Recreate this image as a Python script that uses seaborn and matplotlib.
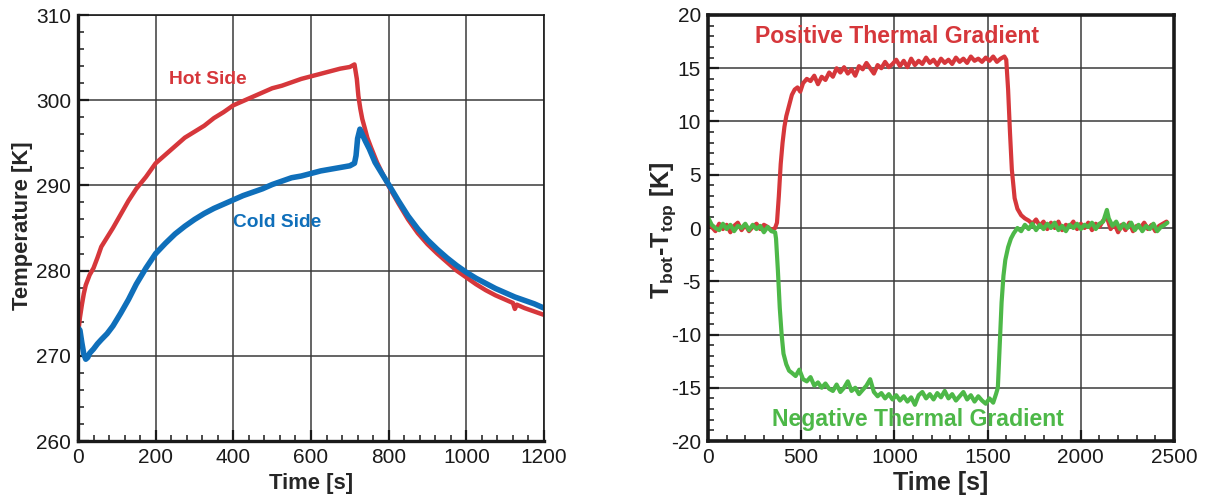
import matplotlib
matplotlib.use("Agg")
import matplotlib.pyplot as plt
import seaborn as sns
import pandas as pd
from matplotlib.ticker import MultipleLocator

# ---------------- data: left panel ----------------
hot_t = [0, 5, 10, 15, 20, 30, 40, 50, 60, 75, 90, 110, 130, 150, 175, 200, 225, 250,
         275, 300, 325, 350, 375, 400, 425, 450, 475, 500, 525, 550, 575, 600, 625, 650,
         675, 700, 712, 718, 722, 727, 732, 738, 745, 755, 770, 785, 800, 825, 850, 875,
         900, 925, 950, 975, 1000, 1025, 1050, 1075, 1100, 1120, 1125, 1130, 1150, 1175, 1200]
hot_T = [272.5, 274.5, 276.0, 277.3, 278.3, 279.5, 280.3, 281.5, 282.8, 283.9, 285.0, 286.6,
         288.2, 289.6, 291.0, 292.6, 293.6, 294.6, 295.6, 296.3, 297.0, 297.9, 298.6, 299.4,
         299.9, 300.4, 300.9, 301.4, 301.7, 302.1, 302.5, 302.8, 303.1, 303.4, 303.7, 303.9,
         304.2, 302.5, 300.5, 299.0, 297.8, 296.8, 295.6, 294.4, 292.7, 291.3, 289.9, 287.9,
         286.0, 284.4, 283.1, 282.0, 281.0, 280.0, 279.2, 278.4, 277.7, 277.1, 276.6, 276.2,
         275.5, 276.0, 275.6, 275.2, 274.8]

cold_t = [0, 5, 10, 15, 20, 25, 30, 40, 50, 60, 75, 90, 110, 130, 150, 175, 200, 225, 250,
          275, 300, 325, 350, 375, 400, 425, 450, 475, 500, 525, 550, 575, 600, 625, 650,
          675, 700, 712, 716, 720, 726, 732, 740, 750, 765, 785, 800, 825, 850, 875, 900,
          925, 950, 975, 1000, 1025, 1050, 1075, 1100, 1125, 1150, 1175, 1200]
cold_T = [273.3, 273.0, 271.5, 270.2, 269.6, 269.8, 270.3, 270.8, 271.4, 271.9, 272.6, 273.5,
          275.0, 276.6, 278.4, 280.3, 282.0, 283.2, 284.3, 285.2, 286.0, 286.7, 287.3, 287.8,
          288.3, 288.8, 289.2, 289.6, 290.1, 290.5, 290.9, 291.1, 291.4, 291.7, 291.9, 292.1,
          292.3, 292.6, 293.5, 295.5, 296.6, 296.0, 295.2, 294.3, 292.7, 291.2, 290.1, 288.2,
          286.4, 284.9, 283.6, 282.5, 281.5, 280.6, 279.8, 279.1, 278.5, 277.9, 277.4, 276.9,
          276.5, 276.1, 275.6]

# ---------------- data: right panel ----------------
pos_t = [0, 20, 40, 60, 80, 100, 120, 140, 160, 180, 200, 220, 240, 260, 280, 300, 320, 340,
         360, 370, 380, 390, 400, 410, 420, 435, 450, 465, 480, 495, 510, 530, 550, 570, 590,
         610, 630, 650, 670, 690, 710, 730, 750, 770, 790, 810, 830, 850, 870, 890, 910, 930,
         950, 970, 990, 1010, 1030, 1050, 1070, 1090, 1110, 1130, 1150, 1170, 1190, 1210,
         1230, 1250, 1270, 1290, 1310, 1330, 1350, 1370, 1390, 1410, 1430, 1450, 1470, 1490,
         1510, 1530, 1550, 1570, 1590, 1600, 1610, 1620, 1630, 1645, 1660, 1680, 1700, 1720,
         1740, 1760, 1780, 1800, 1820, 1840, 1860, 1880, 1900, 1920, 1940, 1960, 1980, 2000,
         2020, 2040, 2060, 2080, 2100, 2120, 2140, 2160, 2180, 2200, 2220, 2240, 2260, 2280,
         2300, 2320, 2340, 2360, 2380, 2400, 2420, 2440, 2460]
pos_v = [0.5, 0.1, -0.3, 0.4, -0.1, 0.3, -0.4, 0.2, 0.5, -0.2, 0.3, -0.3, 0.1, 0.4, -0.1, 0.3,
         0.1, -0.2, 0.0, 0.5, 3.0, 6.0, 8.0, 9.5, 10.5, 11.5, 12.5, 13.0, 13.2, 12.8, 13.6,
         14.0, 13.8, 14.3, 13.5, 14.2, 13.9, 14.6, 14.2, 15.0, 14.6, 15.1, 14.5, 14.9, 14.3,
         15.2, 14.9, 15.5, 15.0, 14.5, 15.3, 15.0, 15.6, 15.1, 15.4, 15.8, 15.2, 15.7, 15.1,
         15.9, 15.3, 15.7, 15.4, 16.0, 15.5, 15.8, 15.3, 15.9, 15.5, 15.8, 15.4, 16.0, 15.6,
         15.9, 15.5, 16.1, 15.7, 15.9, 15.6, 16.0, 15.7, 16.1, 15.6, 15.9, 16.1, 15.8, 13.0,
         9.0, 5.5, 2.8, 1.8, 1.2, 0.9, 0.7, 0.4, 0.8, 0.2, 0.6, -0.1, 0.5, 0.0, 0.6, -0.2, 0.3,
         0.1, 0.6, -0.1, 0.4, 0.0, 0.5, -0.2, 0.4, 0.1, 0.7, 1.0, -0.1, 0.4, -0.4, 0.3, -0.2,
         0.5, -0.3, 0.2, 0.0, 0.5, -0.1, 0.3, -0.3, 0.2, 0.4, 0.6]

neg_t = [0, 20, 40, 60, 80, 100, 120, 140, 160, 180, 200, 220, 240, 260, 280, 300, 320, 340,
         360, 365, 375, 385, 395, 405, 420, 435, 450, 470, 490, 510, 530, 550, 570, 590, 610,
         630, 650, 670, 690, 710, 730, 750, 770, 790, 810, 830, 850, 870, 890, 910, 930, 950,
         970, 990, 1010, 1030, 1050, 1070, 1090, 1110, 1130, 1150, 1170, 1190, 1210, 1230,
         1250, 1270, 1290, 1310, 1330, 1350, 1370, 1390, 1410, 1430, 1450, 1470, 1490, 1510,
         1530, 1545, 1555, 1565, 1575, 1585, 1595, 1610, 1625, 1640, 1660, 1680, 1700, 1720,
         1740, 1760, 1780, 1800, 1820, 1840, 1860, 1880, 1900, 1920, 1940, 1960, 1980, 2000,
         2020, 2040, 2060, 2080, 2100, 2120, 2140, 2150, 2170, 2190, 2210, 2230, 2250, 2270,
         2290, 2310, 2330, 2350, 2370, 2390, 2410, 2430, 2450, 2465]
neg_v = [1.0, 0.3, 0.0, -0.2, 0.4, -0.1, 0.3, -0.3, 0.2, 0.0, 0.4, -0.2, 0.3, -0.1, 0.2, -0.4,
         0.1, -0.3, -0.4, -1.0, -4.0, -7.5, -10.0, -11.8, -12.8, -13.4, -13.6, -13.9, -13.3,
         -14.2, -14.4, -14.0, -14.8, -14.5, -15.0, -14.6, -15.1, -15.3, -14.7, -15.4, -15.0,
         -14.4, -15.3, -15.0, -15.6, -15.2, -14.8, -14.2, -15.4, -15.8, -15.5, -16.0, -15.6,
         -16.1, -15.7, -16.2, -15.8, -16.3, -15.9, -16.6, -15.7, -15.4, -16.0, -15.6, -16.1,
         -15.5, -15.9, -15.3, -16.0, -15.6, -16.2, -15.8, -15.4, -16.1, -15.7, -16.3, -15.8,
         -16.2, -16.5, -16.0, -16.4, -15.6, -15.0, -11.0, -7.0, -4.5, -3.0, -1.8, -1.0, -0.5,
         0.0, -0.3, 0.3, -0.1, 0.4, -0.2, 0.3, -0.1, 0.4, 0.0, 0.5, -0.2, 0.2, -0.3, 0.3, 0.0,
         0.4, -0.1, 0.3, 0.1, 0.5, -0.1, 0.4, 0.6, 1.7, 0.9, 0.2, 0.6, -0.1, 0.4, 0.0, 0.5,
         -0.2, 0.3, -0.3, 0.2, -0.1, 0.4, -0.3, 0.1, 0.3, 0.5]

RED = "#d6373b"
BLUE = "#0f6fba"
GREEN = "#4db848"

sns.set_style("white")
plt.rcParams["font.family"] = ["Liberation Sans", "DejaVu Sans"]
plt.rcParams["axes.unicode_minus"] = False
plt.rcParams["mathtext.fontset"] = "custom"
plt.rcParams["mathtext.rm"] = "Liberation Sans"
plt.rcParams["mathtext.bf"] = "Liberation Sans:bold"

fig = plt.figure(figsize=(12.06, 4.98), dpi=100)
axL = fig.add_axes([78 / 1206, 1 - 441 / 498, 466 / 1206, 426 / 498])
axR = fig.add_axes([708 / 1206, 1 - 441 / 498, 466 / 1206, 426 / 498])

df_hot = pd.DataFrame({"t": hot_t, "T": hot_T})
df_cold = pd.DataFrame({"t": cold_t, "T": cold_T})
sns.lineplot(data=df_hot, x="t", y="T", ax=axL, color=RED, lw=3.2, estimator=None, sort=False)
sns.lineplot(data=df_cold, x="t", y="T", ax=axL, color=BLUE, lw=4.0, estimator=None, sort=False)

df_pos = pd.DataFrame({"t": pos_t, "v": pos_v})
df_neg = pd.DataFrame({"t": neg_t, "v": neg_v})
sns.lineplot(data=df_pos, x="t", y="v", ax=axR, color=RED, lw=3.0, estimator=None, sort=False)
sns.lineplot(data=df_neg, x="t", y="v", ax=axR, color=GREEN, lw=3.0, estimator=None, sort=False)

# ---- axes styling
axL.set_xlim(0, 1200)
axL.set_ylim(260, 310)
axL.xaxis.set_major_locator(MultipleLocator(200))
axL.xaxis.set_minor_locator(MultipleLocator(40))
axL.yaxis.set_major_locator(MultipleLocator(10))
axL.yaxis.set_minor_locator(MultipleLocator(2))

axR.set_xlim(0, 2500)
axR.set_ylim(-20, 20)
axR.xaxis.set_major_locator(MultipleLocator(500))
axR.xaxis.set_minor_locator(MultipleLocator(100))
axR.yaxis.set_major_locator(MultipleLocator(5))
axR.yaxis.set_minor_locator(MultipleLocator(1))

for ax in (axL, axR):
    ax.grid(True, which="major", color="#3a3a3a", lw=1.1)
    ax.set_axisbelow(True)
    ax.tick_params(which="both", direction="in", top=False, right=False,
                   left=True, bottom=True, color="#1a1a1a")
    ax.tick_params(which="major", length=8, width=1.6, labelsize=15, pad=5)
    ax.tick_params(which="minor", length=4, width=1.1)
    for lab in ax.get_xticklabels() + ax.get_yticklabels():
        lab.set_color("#1a1a1a")

axL.spines["left"].set_linewidth(2.4)
axL.spines["bottom"].set_linewidth(2.4)
axL.spines["top"].set_linewidth(1.2)
axL.spines["right"].set_linewidth(1.2)
for s in axL.spines.values():
    s.set_color("#1a1a1a")
for s in axR.spines.values():
    s.set_linewidth(2.6)
    s.set_color("#1a1a1a")

axL.set_xlabel("Time [s]", fontsize=15.8, fontweight="bold", labelpad=4)
axL.set_ylabel("Temperature [K]", fontsize=15.8, fontweight="bold")
axL.yaxis.set_label_coords(-0.097, 0.505)

axR.set_xlabel("Time [s]", fontsize=18, fontweight="bold", labelpad=3)
axR.set_ylabel(r"T$_\mathbf{bot}$-T$_\mathbf{top}$ [K]", fontsize=18, fontweight="bold")
axR.yaxis.set_label_coords(-0.064, 0.495)

axL.text(335, 302.4, "Hot Side", color=RED, fontsize=13.8, fontweight="bold",
         ha="center", va="center")
axL.text(512, 285.7, "Cold Side", color=BLUE, fontsize=13.8, fontweight="bold",
         ha="center", va="center")
axR.text(1014, 18.0, "Positive Thermal Gradient", color=RED, fontsize=16.6, fontweight="bold",
         ha="center", va="center")
axR.text(1127, -18.0, "Negative Thermal Gradient", color=GREEN, fontsize=16.6, fontweight="bold",
         ha="center", va="center")

fig.savefig("out.png", dpi=100)
